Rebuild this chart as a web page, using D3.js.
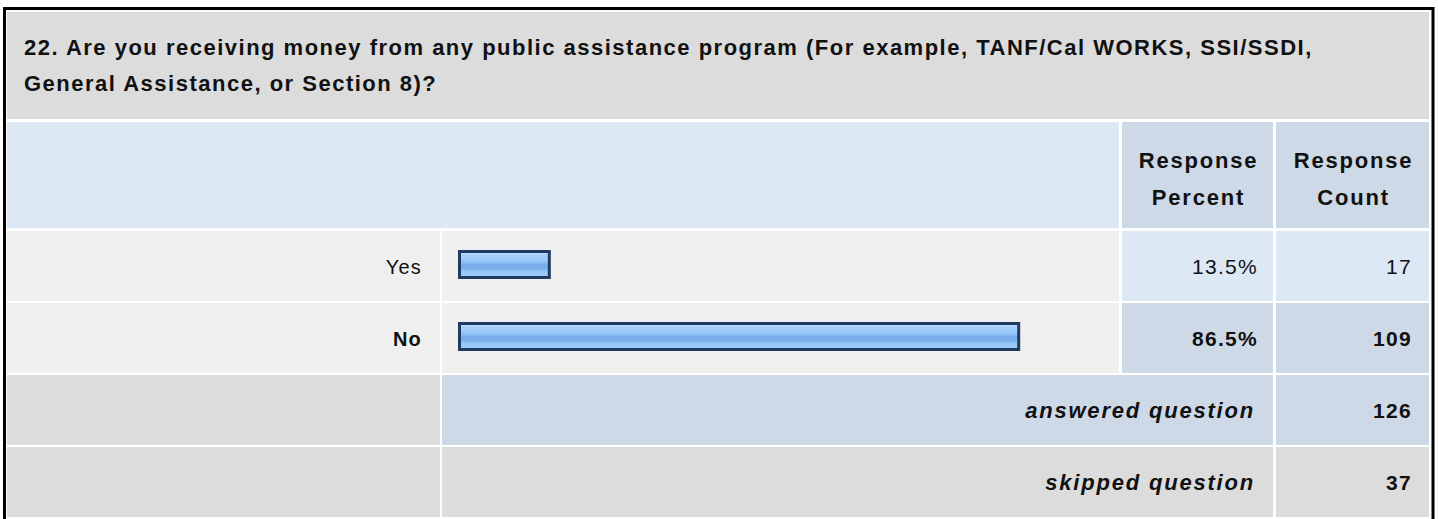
<!DOCTYPE html>
<html>
<head>
<meta charset="utf-8">
<script src="https://cdn.jsdelivr.net/npm/d3@7"></script>
<style>
  html, body { margin: 0; padding: 0; background: #ffffff; }
  svg { display: block; }
  text { font-family: "Liberation Sans", Arial, Helvetica, sans-serif; fill: #111; }
</style>
</head>
<body>
<svg id="chart" width="1438" height="519"></svg>
<script>
// ---- data ----
const titleLines = [
  "22. Are you receiving money from any public assistance program (For example, TANF/Cal WORKS, SSI/SSDI,",
  "General Assistance, or Section 8)?"
];
const headerPercent = ["Response", "Percent"];
const headerCount = ["Response", "Count"];
const categories = ["Yes", "No"];
const percents = [13.5, 86.5];
const counts = [17, 109];
const summaryLabels = ["answered question", "skipped question"];
const summaryValues = [126, 37];

// ---- layout ----
const svg = d3.select("#chart");

const C = {
  title: "#dcdcdc",
  head: "#dde8f5",
  dark: "#cdd9e6",
  row: "#efefef",
  light: "#dde8f5"
};

const colX = { label: 7, bar: 442, pct: 1122, cnt: 1276, end: 1429 };
const yTitle = [12, 119], yHead = [122, 228];
const rowTop0 = 231, rowPitch = 72, rowH = 70;

// outer border
svg.append("rect").attr("x", 4.5).attr("y", 8.5).attr("width", 1428.5).attr("height", 520)
  .attr("fill", "#fff").attr("stroke", "#000").attr("stroke-width", 3);

function cell(x0, x1, y0, y1, fill) {
  svg.append("rect").attr("x", x0).attr("y", y0).attr("width", x1 - x0).attr("height", y1 - y0).attr("fill", fill);
}

// title
cell(colX.label, colX.end, yTitle[0], yTitle[1], C.title);
svg.append("g").selectAll("text").data(titleLines).join("text")
  .attr("x", 24).attr("y", (d, i) => 55 + i * 35.5)
  .attr("font-size", 22).attr("font-weight", "bold").attr("letter-spacing", 1.5)
  .text(d => d);

// header
cell(colX.label, colX.pct - 3, yHead[0], yHead[1], C.head);
cell(colX.pct, colX.cnt - 3, yHead[0], yHead[1], C.dark);
cell(colX.cnt, colX.end, yHead[0], yHead[1], C.dark);
[[headerPercent, (colX.pct + colX.cnt - 3) / 2], [headerCount, (colX.cnt + colX.end) / 2]].forEach(([lines, cx]) => {
  svg.append("g").selectAll("text").data(lines).join("text")
    .attr("x", cx + 1).attr("y", (d, i) => 168 + i * 37).attr("text-anchor", "middle")
    .attr("font-size", 22).attr("font-weight", "bold").attr("letter-spacing", 1.8)
    .text(d => d);
});

// gradient for bars
const defs = svg.append("defs");
const grad = defs.append("linearGradient").attr("id", "barGrad").attr("x1", 0).attr("y1", 0).attr("x2", 0).attr("y2", 1);
[[0, "#c9e3ff"], [0.12, "#a9d2fc"], [0.4, "#93c4f7"], [0.5, "#77adec"], [0.68, "#7db2ee"], [0.75, "#93c3f6"], [1, "#a4cdf9"]]
  .forEach(([o, c]) => grad.append("stop").attr("offset", o).attr("stop-color", c));

const x = d3.scaleLinear().domain([0, 100]).range([0, 643]);
const barX = 458, barBorder = 3, barH = 29;

categories.forEach((cat, i) => {
  const y0 = rowTop0 + i * rowPitch, y1 = y0 + rowH, cy = y0 + rowH / 2;
  const bold = i === 1;
  cell(colX.label, colX.bar - 2, y0, y1, C.row);
  cell(colX.bar, colX.pct - 3, y0, y1, C.row);
  cell(colX.pct, colX.cnt - 3, y0, y1, bold ? C.dark : C.light);
  cell(colX.cnt, colX.end, y0, y1, bold ? C.dark : C.light);
  const base = cy + 8;
  svg.append("text").attr("x", 422).attr("y", base).attr("text-anchor", "end")
    .attr("font-size", 20).attr("font-weight", bold ? "bold" : "normal").attr("letter-spacing", 1.2).text(cat);
  const w = x(percents[i]) + 2 * barBorder;
  svg.append("rect").attr("x", barX + barBorder / 2).attr("y", cy - barH / 2 - 1.5 + barBorder / 2)
    .attr("width", w - barBorder).attr("height", barH - barBorder)
    .attr("fill", "url(#barGrad)").attr("stroke", "#1f3b62").attr("stroke-width", barBorder);
  svg.append("text").attr("x", 1258).attr("y", base).attr("text-anchor", "end")
    .attr("font-size", 21).attr("font-weight", bold ? "bold" : "normal").attr("letter-spacing", 1.3)
    .text(d3.format(".1f")(percents[i]) + "%");
  svg.append("text").attr("x", 1412).attr("y", base).attr("text-anchor", "end")
    .attr("font-size", 21).attr("font-weight", bold ? "bold" : "normal").attr("letter-spacing", 1.3)
    .text(counts[i]);
});

summaryLabels.forEach((lab, j) => {
  const i = categories.length + j;
  const y0 = rowTop0 + i * rowPitch, y1 = y0 + rowH, cy = y0 + rowH / 2;
  const fill = j === 0 ? C.dark : C.title;
  cell(colX.label, colX.bar - 2, y0, y1, C.title);
  cell(colX.bar, colX.cnt - 3, y0, y1, fill);
  cell(colX.cnt, colX.end, y0, y1, fill);
  const base = cy + 8;
  svg.append("text").attr("x", 1255).attr("y", base).attr("text-anchor", "end")
    .attr("font-size", 22).attr("font-weight", "bold").attr("font-style", "italic").attr("letter-spacing", 1.8)
    .text(lab);
  svg.append("text").attr("x", 1412).attr("y", base).attr("text-anchor", "end")
    .attr("font-size", 21).attr("font-weight", "bold").attr("letter-spacing", 1.3)
    .text(summaryValues[j]);
});
</script>
</body>
</html>
